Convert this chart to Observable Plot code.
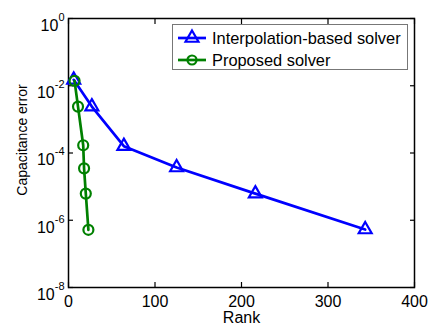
<!DOCTYPE html>
<html><head><meta charset="utf-8">
<script src="https://cdn.jsdelivr.net/npm/d3@7"></script>
<script src="https://cdn.jsdelivr.net/npm/@observablehq/plot@0.6"></script>
<style>
body{margin:0;background:#fff;}
#wrap{position:relative;width:432px;height:326px;font-family:"Liberation Sans",Arial,Helvetica,sans-serif;}
#wrap svg{font-family:"Liberation Sans",Arial,Helvetica,sans-serif;}
#legend{position:absolute;left:172px;top:24px;width:236px;height:46px;border:1px solid #777;background:#fff;box-sizing:border-box;font-size:16.4px;color:#000;}
#legend .row{position:absolute;left:0;height:20px;display:flex;align-items:center;}
#legend svg{display:block;}
</style>
</head><body>
<div id="wrap"></div>
<script>
// ---- data ----
const seriesNames = ["Interpolation-based solver", "Proposed solver"];
const seriesColors = ["#0000ff", "#008000"];
const interpRank  = [6, 27, 64, 125, 216, 343];
const interpError = [1.5e-2, 2.4e-3, 1.6e-4, 3.7e-5, 6.2e-6, 5.3e-7];
const propRank    = [7, 11, 17, 18, 20, 23];
const propError   = [1.4e-2, 2.4e-3, 1.7e-4, 3.5e-5, 6.2e-6, 5.2e-7];
const xTicks = [0, 100, 200, 300, 400];
const yTicks = [1, 1e-2, 1e-4, 1e-6, 1e-8];

const interp = interpRank.map((r, i) => ({rank: r, err: interpError[i]}));
const prop = propRank.map((r, i) => ({rank: r, err: propError[i]}));

const chart = Plot.plot({
  width: 432, height: 326,
  marginLeft: 68, marginRight: 18, marginTop: 18, marginBottom: 39,
  style: {fontSize: "16px", background: "#fff", color: "#000"},
  x: {domain: [0, 400]},
  y: {type: "log", domain: [1e-8, 1]},
  marks: [
    // tick marks (inward) on all four sides
    Plot.axisX(xTicks, {anchor: "bottom", tickSize: -5, fill: "none", label: null, strokeWidth: 1.2}),
    Plot.axisX(xTicks, {anchor: "top", tickSize: -5, fill: "none", label: null, strokeWidth: 1.2}),
    Plot.axisY(yTicks, {anchor: "left", tickSize: -5, fill: "none", label: null, strokeWidth: 1.2}),
    Plot.axisY(yTicks, {anchor: "right", tickSize: -5, fill: "none", label: null, strokeWidth: 1.2}),
    // tick labels + axis labels
    Plot.axisX(xTicks, {anchor: "bottom", tickSize: 0, tickPadding: 8, stroke: "none",
      label: "Rank", labelAnchor: "center", labelOffset: 35, labelArrow: "none"}),
    Plot.axisY(yTicks, {anchor: "left", tickSize: 0, tickPadding: 4, stroke: "none",
      tickFormat: d => "10^" + Math.round(Math.log10(d)),
      label: "Capacitance error", labelAnchor: "center", labelOffset: 51, labelArrow: "none"}),
    Plot.frame({stroke: "#000", strokeWidth: 1.5}),
    Plot.line(interp, {x: "rank", y: "err", stroke: seriesColors[0], strokeWidth: 2.7}),
    Plot.dot(interp, {x: "rank", y: "err", symbol: "triangle", r: 4.8, stroke: seriesColors[0], strokeWidth: 2.2, fill: "none"}),
    Plot.line(prop, {x: "rank", y: "err", stroke: seriesColors[1], strokeWidth: 2.7}),
    Plot.dot(prop, {x: "rank", y: "err", symbol: "circle", r: 5, stroke: seriesColors[1], strokeWidth: 2.2, fill: "none"})
  ]
});

// superscript exponents on y tick labels
d3.select(chart).selectAll('g[aria-label="y-axis tick label"] text').each(function() {
  const t = this.textContent;
  const parts = t.split("^");
  if (parts.length !== 2) return;
  const sel = d3.select(this);
  sel.text("").attr("dy", (parseFloat(sel.attr("dy")) || 0.32) * 16 + 2 + "px");
  sel.append("tspan").text(parts[0]);
  sel.append("tspan").attr("dy", "-10px").attr("font-size", "11px").text(parts[1]);
});
// y label: smaller font, centred a little above the plot centre (as in the reference)
d3.select(chart).selectAll('g[aria-label="y-axis label"] text').each(function() {
  const sel = d3.select(this).attr("font-size", "14px");
  const tr = sel.attr("transform");
  if (tr) sel.attr("transform", tr.replace(/translate\(([^,\s]+)[,\s]+([^)]+)\)/, (m, a, b) => `translate(${a},${parseFloat(b) - 13})`));
});

const wrap = document.getElementById("wrap");
wrap.appendChild(chart);

// legend
const legend = document.createElement("div");
legend.id = "legend";
const rowsTop = [3, 25];
seriesNames.forEach((name, i) => {
  const row = document.createElement("div");
  row.className = "row";
  row.style.top = rowsTop[i] + "px";
  const s = d3.create("svg").attr("width", 39).attr("height", 20);
  s.append("line").attr("x1", 5).attr("x2", 33).attr("y1", 10).attr("y2", 10)
    .attr("stroke", seriesColors[i]).attr("stroke-width", 2.7);
  if (i === 0) {
    s.append("path").attr("d", d3.symbol(d3.symbolTriangle, Math.PI * 4.8 * 4.8)()).attr("transform", "translate(19,10)")
      .attr("fill", "none").attr("stroke", seriesColors[i]).attr("stroke-width", 2.2);
  } else {
    s.append("circle").attr("cx", 19).attr("cy", 10).attr("r", 4.5)
      .attr("fill", "none").attr("stroke", seriesColors[i]).attr("stroke-width", 2.2);
  }
  row.appendChild(s.node());
  const label = document.createElement("span");
  label.textContent = name;
  row.appendChild(label);
  legend.appendChild(row);
});
wrap.appendChild(legend);
</script>
</body></html>
